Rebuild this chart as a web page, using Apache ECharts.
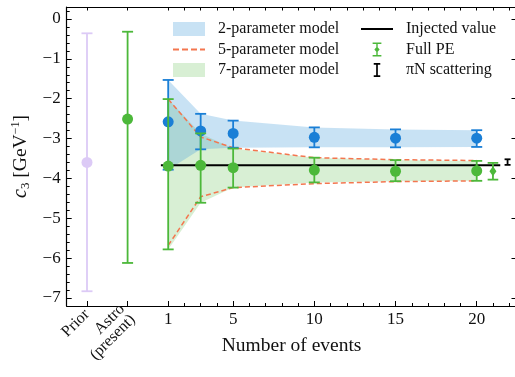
<!DOCTYPE html>
<html>
<head>
<meta charset="utf-8">
<script src="https://cdn.jsdelivr.net/npm/echarts@6/dist/echarts.min.js"></script>
<style>
    html, body { margin: 0; padding: 0; background: #fff; }
    #chart { width: 515px; height: 377px; }
</style>
</head>
<body>
<div id="chart"></div>
<script>
    // values
    var events = [1, 3, 5, 10, 15, 20];
    var twoMid = [-2.58, -2.81, -2.87, -2.97, -2.99, -2.99];
    var twoLo = [-3.78, -3.27, -3.23, -3.22, -3.22, -3.21];
    var twoHi = [-1.53, -2.38, -2.55, -2.72, -2.77, -2.79];
    var fullMid = [-3.69, -3.67, -3.73, -3.79, -3.82, -3.81];
    var fullLo = [-5.78, -4.61, -4.23, -4.10, -4.07, -4.06];
    var fullHi = [-2.01, -2.87, -3.25, -3.48, -3.54, -3.56];
    var fiveHi = [-2.01, -2.96, -3.23, -3.48, -3.53, -3.55];
    var fiveLo = [-5.68, -4.46, -4.23, -4.13, -4.08, -4.06];

    var priorPt = [-4, -3.60, -6.83, -0.36];      // x, mid, lo, hi
    var astroPt = [-1.5, -2.51, -6.12, -0.32];
    var fullPePt = [21, -3.82, -4.03, -3.61];
    var piNPt = [21.9, -3.59, -3.66, -3.52];
    var injected = -3.67;
    var injectedX = [0.55, 21.45];

    var xTicks = [1, 5, 10, 15, 20];
    var sideTicks = [-4, -1.5];
    var sideLabels = ['Prior', 'Astro\n(present)'];
    var yTicks = [-7, -6, -5, -4, -3, -2, -1, 0];

    var BLUE = '#1a7fd6', GREEN = '#4cb83a', LAV = '#dccaf6', RED = '#f4764f';
    var FONT = 'Liberation Serif';

    var minorX = [], allX = sideTicks.slice(), minorY = [];
    for (var i = 1; i <= 22; i++) {
        allX.push(i);
        if (xTicks.indexOf(i) < 0) minorX.push(i);
    }
    for (var k = -36; k <= 1; k++) {
        if (k % 5 !== 0) minorY.push(+(k * 0.2).toFixed(1));
    }

    function rows(xs, lo, hi) {
        return xs.map(function (x, i) { return [x, lo[i], hi[i]]; });
    }

    function errSeries(name, color, data, cap, lw, z) {
        return {
            name: name,
            type: 'custom',
            z: z,
            itemStyle: { color: color },
            data: data,
            renderItem: function (params, api) {
                var x = api.value(0);
                var a = api.coord([x, api.value(2)]);
                var b = api.coord([x, api.value(1)]);
                var st = { stroke: color, lineWidth: lw };
                return {
                    type: 'group', children: [
                        { type: 'line', shape: { x1: a[0], y1: a[1], x2: b[0], y2: b[1] }, style: st },
                        { type: 'line', shape: { x1: a[0] - cap, y1: a[1], x2: a[0] + cap, y2: a[1] }, style: st },
                        { type: 'line', shape: { x1: b[0] - cap, y1: b[1], x2: b[0] + cap, y2: b[1] }, style: st }
                    ]
                };
            }
        };
    }

    function bandSeries(name, fill, xs, lo, hi, z) {
        return {
            name: name,
            type: 'custom',
            z: z,
            itemStyle: { color: fill },
            data: rows(xs, lo, hi),
            renderItem: function (params, api) {
                if (params.dataIndex !== 0) return;
                var pts = [];
                xs.forEach(function (x, i) { pts.push(api.coord([x, hi[i]])); });
                for (var j = xs.length - 1; j >= 0; j--) pts.push(api.coord([xs[j], lo[j]]));
                return { type: 'polygon', shape: { points: pts }, style: { fill: fill } };
            }
        };
    }

    function pts(xs, ys) {
        return xs.map(function (x, i) { return [x, ys[i]]; });
    }

    function fmtY(v) {
        return v < 0 ? '\u2212' + Math.abs(v) : String(v);
    }

    var chart = echarts.init(document.getElementById('chart'));

    var baseX = { type: 'value', min: -5.25, max: 22.45, splitLine: { show: false }, gridIndex: 0 };
    var baseY = { type: 'value', min: -7.2, max: 0.3, splitLine: { show: false }, gridIndex: 0 };
    var axLine = { show: true, onZero: false, lineStyle: { color: '#000', width: 1.2 } };
    var noLine = { show: false, onZero: false };
    var legText = { fontFamily: FONT, fontSize: 16, lineHeight: 18, color: '#111', padding: [0, 0, 0, 8] };

    var option = {
        animation: false,
        grid: { left: 66.7, right: -1.5, top: 7, bottom: 71, containLabel: false, outerBoundsMode: 'none' },
        legend: [
            {
                left: 168, top: 15, orient: 'vertical', itemWidth: 32, itemHeight: 14, itemGap: 2.5,
                selectedMode: false, textStyle: legText,
                data: [
                    { name: '2-parameter model', icon: 'rect', itemStyle: { color: 'rgba(74,160,218,0.3)', borderWidth: 0 } },
                    { name: '5-parameter model', icon: 'path://M0,0h6v2h-6z M9,0h6v2h-6z M18,0h6v2h-6z M27,0h5v2h-5z', itemStyle: { color: RED, borderWidth: 0 } },
                    { name: '7-parameter model', icon: 'rect', itemStyle: { color: 'rgba(76,184,58,0.22)', borderWidth: 0 } }
                ]
            },
            {
                left: 356, top: 15, orient: 'vertical', itemWidth: 32, itemHeight: 14, itemGap: 2.5,
                selectedMode: false, textStyle: legText,
                data: [
                    { name: 'Injected value', icon: 'path://M0,0h32v2h-32z', itemStyle: { color: '#000', borderWidth: 0 } },
                    { name: 'Full PE', icon: 'path://M0,0h10v1.6h-10z M0,14.4h10v1.6h-10z M4.2,0h1.6v16h-1.6z M5,4.5L8,8L5,11.5L2,8z', itemStyle: { color: GREEN, borderWidth: 0 } },
                    { name: '\u03c0N scattering', icon: 'path://M0,0h7v1.8h-7z M0,13.2h7v1.8h-7z M2.6,0h1.8v15h-1.8z', itemStyle: { color: '#000', borderWidth: 0 } }
                ]
            }
        ],
        xAxis: [
            Object.assign({}, baseX, {
                position: 'bottom',
                name: 'Number of events', nameLocation: 'middle', nameGap: 30,
                nameTextStyle: { fontFamily: FONT, fontSize: 19.5, color: '#111' },
                axisLine: axLine,
                axisTick: { inside: true, length: 5, customValues: xTicks, lineStyle: { color: '#000' } },
                axisLabel: { customValues: xTicks, margin: 5, fontFamily: FONT, fontSize: 17, color: '#111' }
            }),
            Object.assign({}, baseX, {
                position: 'bottom',
                axisLine: noLine,
                axisTick: { inside: true, length: 5, customValues: sideTicks, lineStyle: { color: '#000' } },
                axisLabel: {
                    customValues: sideTicks, rotate: 45, margin: 6, fontFamily: FONT, fontSize: 16, color: '#111',
                    align: 'right', lineHeight: 15,
                    formatter: function (v) { return sideLabels[sideTicks.indexOf(v)] || ''; }
                }
            }),
            Object.assign({}, baseX, {
                position: 'bottom',
                axisLine: noLine,
                axisTick: { inside: true, length: 3, customValues: minorX, lineStyle: { color: '#000' } },
                axisLabel: { show: false }
            }),
            Object.assign({}, baseX, {
                position: 'top',
                axisLine: axLine,
                axisTick: { inside: true, length: 3.5, customValues: allX, lineStyle: { color: '#000' } },
                axisLabel: { show: false }
            })
        ],
        yAxis: [
            Object.assign({}, baseY, {
                position: 'left',
                name: '{c|c}{sub|3} [GeV{sup|\u22121}]', nameLocation: 'middle', nameGap: 32, nameRotate: 90,
                nameTextStyle: {
                    fontFamily: FONT, fontSize: 19.5, color: '#111',
                    rich: {
                        c: { fontFamily: FONT, fontSize: 20, fontStyle: 'italic', color: '#111' },
                        sub: { fontFamily: FONT, fontSize: 13, color: '#111', verticalAlign: 'bottom', padding: [9, 0, 0, 0] },
                        sup: { fontFamily: FONT, fontSize: 12, color: '#111', verticalAlign: 'top', padding: [0, 0, 9, 0] }
                    }
                },
                axisLine: axLine,
                axisTick: { show: true, inside: true, length: 5, customValues: yTicks, lineStyle: { color: '#000' } },
                axisLabel: { customValues: yTicks, margin: 6, fontFamily: FONT, fontSize: 17, color: '#111', formatter: fmtY }
            }),
            Object.assign({}, baseY, {
                position: 'left',
                axisLine: noLine,
                axisTick: { show: true, inside: true, length: 3, customValues: minorY, lineStyle: { color: '#000' } },
                axisLabel: { show: false }
            }),
            Object.assign({}, baseY, {
                position: 'right',
                axisLine: noLine,
                axisTick: { show: true, inside: true, length: 5, customValues: yTicks, lineStyle: { color: '#000' } },
                axisLabel: { show: false }
            })
        ],
        series: [
            bandSeries('7-parameter model', 'rgba(76,184,58,0.22)', events, fullLo, fullHi, 1),
            bandSeries('2-parameter model', 'rgba(74,160,218,0.3)', events, twoLo, twoHi, 1),
            {
                name: '5-parameter model', type: 'line', z: 2, symbol: 'none', data: pts(events, fiveHi),
                lineStyle: { color: RED, width: 1.5, type: [5, 3] }, itemStyle: { color: RED }
            },
            {
                name: '5-parameter model', type: 'line', z: 2, symbol: 'none', data: pts(events, fiveLo),
                lineStyle: { color: RED, width: 1.5, type: [5, 3] }, itemStyle: { color: RED }
            },
            {
                name: 'Injected value', type: 'line', z: 3, symbol: 'none',
                data: injectedX.map(function (x) { return [x, injected]; }),
                lineStyle: { color: '#000', width: 2 }, itemStyle: { color: '#000' }
            },
            errSeries('two-err', BLUE, rows(events, twoLo, twoHi), 5.5, 1.8, 4),
            {
                name: 'two-pt', type: 'scatter', z: 4, symbol: 'circle', symbolSize: 11,
                data: pts(events, twoMid), itemStyle: { color: BLUE, opacity: 1 }
            },
            errSeries('full-err', GREEN, rows(events, fullLo, fullHi), 5.5, 1.8, 5),
            {
                name: 'full-pt', type: 'scatter', z: 5, symbol: 'circle', symbolSize: 11,
                data: pts(events, fullMid), itemStyle: { color: GREEN, opacity: 1 }
            },
            errSeries('prior-err', LAV, [[priorPt[0], priorPt[2], priorPt[3]]], 5.5, 1.8, 4),
            {
                name: 'prior-pt', type: 'scatter', z: 4, symbol: 'circle', symbolSize: 11,
                data: [[priorPt[0], priorPt[1]]], itemStyle: { color: LAV, opacity: 1 }
            },
            errSeries('astro-err', GREEN, [[astroPt[0], astroPt[2], astroPt[3]]], 5.5, 1.8, 4),
            {
                name: 'astro-pt', type: 'scatter', z: 4, symbol: 'circle', symbolSize: 11,
                data: [[astroPt[0], astroPt[1]]], itemStyle: { color: GREEN, opacity: 1 }
            },
            errSeries('Full PE', GREEN, [[fullPePt[0], fullPePt[2], fullPePt[3]]], 5.3, 1.8, 5),
            {
                name: 'Full PE', type: 'scatter', z: 5, symbol: 'diamond', symbolSize: [7, 10],
                data: [[fullPePt[0], fullPePt[1]]], itemStyle: { color: GREEN, opacity: 1 }
            },
            errSeries('\u03c0N scattering', '#000', [[piNPt[0], piNPt[2], piNPt[3]]], 3, 1.8, 5)
        ]
    };

    option && chart.setOption(option);
</script>
</body>
</html>
